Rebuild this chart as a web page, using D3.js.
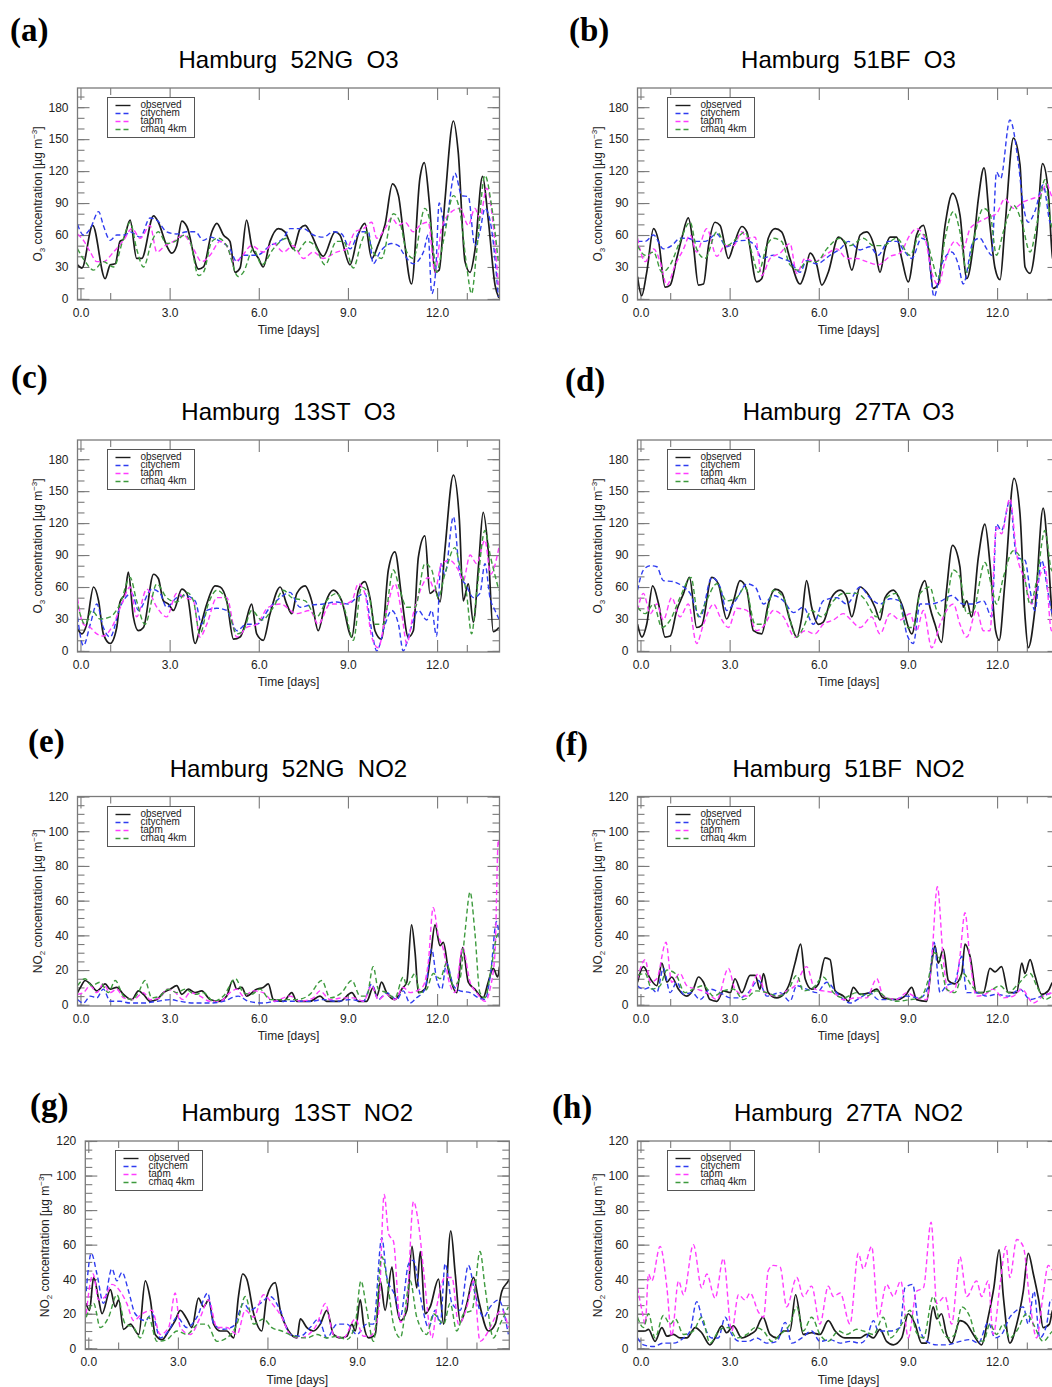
<!DOCTYPE html>
<html>
<head>
<meta charset="utf-8">
<script src="https://cdn.jsdelivr.net/npm/d3@7"></script>
<style>
  body { margin: 0; background: #fff; }
  svg { display: block; }
  text { font-family: "Liberation Sans", Arial, Helvetica, sans-serif; }
</style>
</head>
<body>
<svg id="fig" width="1052" height="1387"></svg>
<script>
// ---------------------------------------------------------------
// Hourly-smoothed time series, [day, concentration in µg m-3]
// ---------------------------------------------------------------

// 52NG O3
const obs52NG_O3 = [[-0.1,32],[0.05,29],[0.41,69],[0.83,19],[1.0,32],[1.17,33],[1.33,54],[1.45,56],[1.67,74],[1.89,38],[2.06,38],[2.46,78],[2.62,72],[2.9,50],[3.07,43],[3.24,50],[3.41,73],[3.58,68],[3.97,28],[4.14,30],[4.42,63],[4.59,71],[4.81,60],[5.03,54],[5.2,25],[5.37,29],[5.59,74],[5.76,50],[5.99,38],[6.15,30],[6.38,54],[6.66,66],[6.88,63],[7.16,47],[7.39,66],[7.56,69],[7.72,63],[8.17,40],[8.57,63],[8.73,60],[9.07,32],[9.35,61],[9.57,71],[9.8,38],[10.02,51],[10.25,70],[10.5,108],[10.7,97],[10.86,63],[11.14,14],[11.42,113],[11.57,128],[11.74,90],[11.93,25],[12.07,27],[12.26,91],[12.55,167],[12.71,138],[12.94,35],[13.11,25],[13.27,45],[13.53,115],[13.72,75],[13.95,13],[14.08,1]];
const city52NG_O3 = [[-0.1,70],[0.1,60],[0.33,66],[0.61,82],[0.77,69],[1.0,55],[1.22,60],[1.5,60],[1.67,63],[2.01,58],[2.34,76],[2.57,74],[2.9,63],[3.24,61],[3.58,63],[3.86,63],[4.14,55],[4.36,58],[4.7,54],[5.03,47],[5.26,35],[5.48,41],[5.93,41],[6.38,50],[6.83,57],[7.05,66],[7.5,66],[7.84,60],[8.17,58],[8.51,63],[8.79,61],[9.07,47],[9.41,63],[9.69,63],[9.85,33],[10.08,44],[10.47,52],[10.7,50],[10.86,43],[11.2,33],[11.54,44],[11.7,60],[11.82,5],[11.95,25],[12.07,90],[12.26,69],[12.6,118],[12.83,97],[13.05,96],[13.27,50],[13.44,63],[13.61,85],[13.83,66],[14.06,2]];
const tapm52NG_O3 = [[-0.1,61],[0.1,55],[0.33,44],[0.55,35],[0.77,35],[1.11,44],[1.45,55],[1.73,66],[2.01,57],[2.34,69],[2.57,44],[2.85,50],[3.13,54],[3.46,60],[3.8,47],[4.08,35],[4.36,41],[4.7,54],[4.92,50],[5.15,35],[5.37,38],[5.76,50],[6.15,44],[6.49,52],[6.83,44],[7.16,50],[7.5,38],[7.84,44],[8.17,38],[8.62,44],[8.96,47],[9.24,63],[9.52,66],[9.8,72],[9.97,57],[10.25,66],[10.47,76],[10.7,69],[10.92,72],[11.2,63],[11.42,69],[11.7,72],[11.93,25],[12.15,66],[12.49,82],[12.77,85],[13.05,69],[13.27,85],[13.44,76],[13.67,104],[13.89,69],[14.06,13]];
const cmaq52NG_O3 = [[-0.1,47],[0.16,35],[0.44,27],[0.77,35],[1.11,30],[1.45,57],[1.67,72],[1.89,47],[2.12,30],[2.4,54],[2.62,63],[2.9,52],[3.18,54],[3.52,60],[3.69,54],[3.97,22],[4.14,25],[4.42,54],[4.64,57],[4.92,50],[5.31,21],[5.48,25],[5.82,47],[6.1,32],[6.49,47],[6.94,57],[7.28,44],[7.61,54],[7.89,50],[8.23,32],[8.62,54],[8.85,54],[9.18,29],[9.46,54],[9.63,63],[9.85,44],[10.13,38],[10.53,80],[10.75,72],[10.98,44],[11.2,38],[11.59,85],[11.82,63],[11.98,25],[12.21,54],[12.55,97],[12.77,82],[12.99,32],[13.16,5],[13.33,44],[13.61,116],[13.83,88],[14.06,35]];

// 51BF O3
const obs51BF_O3 = [[-0.1,21],[0.04,3],[0.21,25],[0.44,66],[0.61,54],[0.83,11],[1.0,13],[1.22,38],[1.39,57],[1.61,76],[1.78,50],[1.95,13],[2.12,14],[2.29,50],[2.51,72],[2.68,69],[2.96,38],[3.13,50],[3.41,68],[3.58,63],[3.91,16],[4.08,19],[4.3,57],[4.53,66],[4.75,63],[5.03,38],[5.37,14],[5.54,25],[5.71,43],[5.93,32],[6.1,13],[6.32,25],[6.66,58],[6.88,52],[7.11,27],[7.39,60],[7.61,63],[7.89,47],[8.06,25],[8.23,47],[8.4,58],[8.62,58],[8.79,38],[9.01,16],[9.29,60],[9.52,69],[9.69,47],[9.85,10],[10.02,14],[10.25,69],[10.5,99],[10.75,79],[10.98,19],[11.2,50],[11.37,94],[11.56,123],[11.76,69],[11.93,29],[12.1,18],[12.26,66],[12.55,151],[12.77,126],[12.94,30],[13.11,24],[13.33,60],[13.53,127],[13.72,101],[13.87,38],[14.1,25]];
const city51BF_O3 = [[-0.1,54],[0.16,54],[0.44,60],[0.77,47],[1.05,50],[1.33,57],[1.61,57],[1.89,54],[2.17,54],[2.57,61],[2.9,49],[3.24,54],[3.52,55],[3.86,50],[4.08,38],[4.47,41],[4.75,38],[5.03,35],[5.37,25],[5.59,36],[5.93,33],[6.38,41],[6.72,47],[7.0,54],[7.39,46],[7.72,49],[8.0,41],[8.34,54],[8.62,54],[8.9,44],[9.13,38],[9.46,57],[9.63,54],[9.88,2],[10.13,32],[10.47,44],[10.7,32],[10.86,14],[11.2,54],[11.42,57],[11.65,47],[11.82,41],[11.98,119],[12.12,113],[12.43,168],[12.71,129],[12.88,88],[13.05,72],[13.27,82],[13.55,107],[13.78,72],[14.1,60]];
const tapm51BF_O3 = [[-0.1,57],[0.16,35],[0.44,47],[0.66,35],[0.89,13],[1.17,32],[1.45,47],[1.67,60],[1.89,44],[2.23,66],[2.57,40],[2.85,50],[3.13,50],[3.41,63],[3.58,57],[3.86,58],[4.08,22],[4.36,38],[4.7,43],[5.03,52],[5.26,24],[5.54,38],[5.87,35],[6.21,41],[6.6,47],[6.94,38],[7.28,38],[7.61,35],[8.0,32],[8.4,40],[8.73,43],[9.07,60],[9.29,66],[9.57,57],[9.8,25],[10.02,13],[10.25,35],[10.58,54],[10.86,47],[11.09,66],[11.37,72],[11.65,76],[11.98,80],[12.26,94],[12.55,85],[12.88,91],[13.16,94],[13.44,97],[13.67,108],[13.83,97],[14.1,90]];
const cmaq51BF_O3 = [[-0.1,50],[0.16,41],[0.44,44],[0.72,25],[1.0,32],[1.33,54],[1.67,72],[1.89,47],[2.17,38],[2.57,63],[2.9,50],[3.24,57],[3.52,63],[3.74,44],[3.97,25],[4.25,50],[4.47,57],[4.75,54],[5.03,32],[5.31,27],[5.59,35],[5.93,35],[6.27,47],[6.72,57],[7.05,50],[7.5,57],[7.84,50],[8.17,50],[8.62,57],[9.07,41],[9.41,61],[9.57,60],[9.8,38],[10.02,19],[10.25,57],[10.53,82],[10.75,63],[10.98,25],[11.2,54],[11.54,85],[11.76,80],[11.98,41],[12.21,63],[12.55,88],[12.83,72],[13.11,44],[13.33,69],[13.61,112],[13.83,69],[14.1,60]];

// 13ST O3
const obs13ST_O3 = [[-0.1,21],[0.05,16],[0.21,25],[0.44,60],[0.61,47],[0.77,16],[1.0,7],[1.22,22],[1.33,46],[1.5,54],[1.61,74],[1.78,32],[1.95,19],[2.12,22],[2.46,72],[2.62,68],[2.79,47],[2.96,44],[3.13,38],[3.41,58],[3.58,54],[3.86,7],[4.02,21],[4.25,44],[4.53,61],[4.7,60],[4.92,47],[5.15,11],[5.37,13],[5.54,25],[5.76,44],[5.93,16],[6.15,10],[6.38,35],[6.72,60],[6.94,44],[7.11,35],[7.28,54],[7.56,61],[7.78,47],[8.0,19],[8.23,44],[8.51,57],[8.79,47],[9.13,13],[9.35,57],[9.57,65],[9.74,50],[9.91,19],[10.13,11],[10.36,76],[10.58,93],[10.81,50],[11.03,13],[11.2,19],[11.37,88],[11.59,108],[11.76,54],[11.93,57],[12.1,46],[12.26,94],[12.55,165],[12.75,123],[12.88,47],[13.05,63],[13.22,27],[13.4,82],[13.55,130],[13.72,94],[13.89,18],[14.08,22]];
const city13ST_O3 = [[-0.1,32],[0.1,5],[0.33,25],[0.55,44],[0.77,22],[1.0,13],[1.33,41],[1.73,54],[1.95,38],[2.4,58],[2.68,54],[2.9,41],[3.24,50],[3.52,52],[3.86,47],[4.08,25],[4.25,38],[4.59,40],[4.92,38],[5.26,19],[5.59,25],[5.93,25],[6.38,41],[6.72,50],[7.05,55],[7.39,41],[7.72,43],[8.17,44],[8.62,46],[9.01,44],[9.29,50],[9.57,54],[9.8,19],[9.97,0],[10.25,25],[10.47,38],[10.7,25],[10.86,0],[11.09,19],[11.37,38],[11.65,29],[11.82,38],[11.98,14],[12.13,82],[12.26,72],[12.55,126],[12.77,72],[12.99,61],[13.22,50],[13.44,54],[13.61,82],[13.78,50],[13.95,38],[14.08,30]];
const tapm13ST_O3 = [[-0.1,49],[0.1,25],[0.33,22],[0.55,16],[0.77,14],[1.05,22],[1.39,44],[1.67,60],[1.89,32],[2.23,58],[2.57,41],[2.9,32],[3.24,54],[3.52,50],[3.8,47],[4.02,13],[4.25,25],[4.59,50],[4.92,50],[5.26,13],[5.59,22],[5.93,25],[6.32,41],[6.72,44],[7.28,35],[7.72,38],[8.0,25],[8.4,44],[8.85,44],[9.13,47],[9.35,63],[9.57,54],[9.8,13],[10.02,3],[10.3,38],[10.58,63],[10.81,35],[10.98,7],[11.2,35],[11.48,60],[11.7,69],[11.93,57],[12.15,82],[12.43,85],[12.71,76],[12.88,66],[13.11,90],[13.33,82],[13.61,104],[13.8,72],[14.08,97]];
const cmaq13ST_O3 = [[-0.1,44],[0.16,25],[0.38,38],[0.66,30],[1.0,32],[1.33,44],[1.67,69],[1.89,47],[2.17,25],[2.57,63],[2.9,50],[3.24,46],[3.58,55],[3.8,47],[4.02,16],[4.3,44],[4.59,57],[4.87,50],[5.26,16],[5.48,19],[5.76,38],[6.1,29],[6.49,41],[6.83,57],[7.11,50],[7.56,47],[7.95,32],[8.28,47],[8.62,54],[8.9,38],[9.18,10],[9.46,60],[9.69,54],[9.91,25],[10.19,25],[10.53,76],[10.75,57],[10.98,41],[11.26,41],[11.59,82],[11.82,76],[12.04,50],[12.26,72],[12.6,97],[12.77,79],[12.99,54],[13.16,16],[13.33,54],[13.61,113],[13.8,88],[14.08,57]];

// 27TA O3
const obs27TA_O3 = [[-0.1,25],[0.05,13],[0.21,25],[0.41,61],[0.61,44],[0.83,13],[1.0,14],[1.22,38],[1.45,54],[1.65,69],[1.89,22],[2.06,24],[2.4,69],[2.62,63],[2.9,30],[3.13,47],[3.35,66],[3.58,57],[3.8,19],[4.08,16],[4.3,44],[4.53,58],[4.75,55],[5.03,29],[5.26,13],[5.43,32],[5.59,66],[5.76,41],[5.99,25],[6.15,27],[6.43,50],[6.72,57],[6.94,50],[7.11,32],[7.39,60],[7.61,55],[7.89,41],[8.06,29],[8.23,50],[8.51,57],[8.79,44],[9.13,16],[9.41,57],[9.57,66],[9.74,41],[9.91,25],[10.13,8],[10.3,57],[10.5,99],[10.75,79],[10.86,41],[10.98,47],[11.14,32],[11.37,88],[11.59,119],[11.76,82],[11.95,19],[12.07,10],[12.26,63],[12.57,162],[12.77,129],[12.94,32],[13.05,3],[13.27,38],[13.55,134],[13.72,88],[13.87,32],[14.1,20]];
const city27TA_O3 = [[-0.1,57],[0.1,76],[0.33,80],[0.55,79],[0.77,66],[1.11,65],[1.45,60],[1.67,54],[2.01,32],[2.4,69],[2.68,60],[2.9,38],[3.24,49],[3.58,63],[3.86,60],[4.14,44],[4.47,52],[4.81,47],[5.15,36],[5.48,41],[5.82,25],[6.15,47],[6.6,50],[6.94,44],[7.39,60],[7.72,50],[8.06,44],[8.4,49],[8.73,47],[8.96,16],[9.18,7],[9.41,44],[9.74,44],[10.13,47],[10.47,52],[10.86,44],[11.2,44],[11.54,47],[11.82,32],[11.98,119],[12.15,113],[12.43,141],[12.66,88],[12.94,85],[13.11,57],[13.27,38],[13.5,85],[13.72,54],[13.87,35],[14.1,45]];
const tapm27TA_O3 = [[-0.1,38],[0.1,54],[0.33,35],[0.55,44],[0.77,29],[1.05,50],[1.33,32],[1.61,44],[1.89,7],[2.12,25],[2.46,44],[2.68,32],[2.96,22],[3.24,40],[3.58,38],[3.91,19],[4.19,25],[4.47,38],[4.81,32],[5.2,13],[5.54,19],[5.87,16],[6.15,25],[6.49,29],[6.83,35],[7.05,30],[7.39,22],[7.78,32],[8.06,16],[8.4,35],[8.73,29],[9.07,35],[9.29,19],[9.52,38],[9.8,3],[10.08,25],[10.53,44],[10.75,25],[10.98,13],[11.31,38],[11.54,19],[11.76,19],[11.98,116],[12.15,110],[12.43,143],[12.66,91],[12.94,66],[13.16,44],[13.38,66],[13.61,79],[13.83,19],[14.1,35]];
const cmaq27TA_O3 = [[-0.1,41],[0.16,35],[0.44,44],[0.72,22],[1.0,29],[1.33,50],[1.7,69],[1.95,32],[2.17,44],[2.57,63],[2.9,47],[3.24,50],[3.52,60],[3.86,25],[4.14,25],[4.47,57],[4.81,50],[5.26,13],[5.48,22],[5.76,38],[6.1,32],[6.49,47],[6.83,54],[7.28,54],[7.5,50],[7.95,32],[8.28,50],[8.62,54],[8.96,22],[9.18,22],[9.41,54],[9.74,60],[9.97,38],[10.19,32],[10.53,76],[10.75,69],[10.98,35],[11.2,38],[11.59,83],[11.82,60],[11.98,44],[12.21,69],[12.55,94],[12.83,85],[13.11,44],[13.33,66],[13.61,113],[13.83,76],[14.1,70]];

// 52NG NO2
const obs52NG_NO2 = [[-0.1,7],[0.0,10],[0.16,14],[0.33,12],[0.55,8],[0.83,12],[1.0,9],[1.22,10],[1.45,6],[1.73,3],[1.95,8],[2.12,6],[2.34,2],[2.57,3],[2.79,7],[3.02,9],[3.24,11],[3.41,6],[3.63,9],[3.86,7],[4.08,8],[4.36,3],[4.64,2],[4.92,5],[5.12,14],[5.26,9],[5.43,10],[5.59,5],[5.93,9],[6.15,10],[6.32,12],[6.49,3],[6.83,2],[7.11,7],[7.28,2],[7.72,2],[8.06,5],[8.28,2],[8.73,2],[9.13,7],[9.35,2],[9.63,2],[9.85,10],[9.97,5],[10.13,13],[10.3,7],[10.58,3],[10.81,9],[10.98,13],[11.14,46],[11.26,30],[11.37,7],[11.59,9],[11.78,28],[11.93,46],[12.1,34],[12.21,36],[12.38,20],[12.66,7],[12.86,33],[13.05,13],[13.27,9],[13.55,4],[13.72,13],[13.89,21],[14.04,16],[14.1,22]];
const city52NG_NO2 = [[-0.1,3],[0.1,1],[0.33,5],[0.55,4],[0.77,9],[1.0,2],[1.33,2],[1.67,1],[2.12,1],[2.57,2],[3.02,3],[3.35,2],[3.8,1],[4.36,1],[4.81,2],[5.31,5],[5.65,2],[6.15,1],[6.6,2],[7.11,2],[7.72,2],[8.17,3],[8.62,2],[9.07,3],[9.52,2],[9.8,12],[10.02,3],[10.3,7],[10.64,3],[10.86,8],[11.09,1],[11.31,4],[11.59,9],[11.82,32],[11.98,15],[12.15,9],[12.32,24],[12.55,11],[12.77,8],[13.11,7],[13.4,4],[13.61,3],[13.8,18],[14.0,48],[14.1,38]];
const tapm52NG_NO2 = [[-0.1,6],[0.1,7],[0.33,11],[0.55,7],[0.77,12],[1.0,7],[1.22,9],[1.45,4],[1.78,3],[2.12,7],[2.34,3],[2.68,4],[2.9,9],[3.13,8],[3.46,3],[3.69,7],[4.02,5],[4.36,2],[4.7,2],[5.03,7],[5.26,9],[5.48,5],[5.82,8],[6.15,7],[6.49,2],[7.05,5],[7.39,2],[7.84,4],[8.06,8],[8.4,3],[8.85,4],[9.18,4],[9.52,2],[9.8,11],[10.02,3],[10.3,6],[10.58,3],[10.86,10],[11.09,7],[11.31,8],[11.54,11],[11.7,24],[11.87,56],[12.04,40],[12.21,32],[12.38,15],[12.6,7],[12.86,33],[13.11,13],[13.33,7],[13.61,2],[13.78,9],[13.95,30],[14.06,95],[14.1,92]];
const cmaq52NG_NO2 = [[-0.1,11],[0.16,15],[0.38,11],[0.66,13],[0.94,7],[1.17,14],[1.45,5],[1.73,3],[1.95,7],[2.17,14],[2.4,4],[2.68,5],[2.96,9],[3.24,7],[3.52,9],[3.86,6],[4.14,7],[4.47,2],[4.81,5],[5.22,15],[5.48,7],[5.76,6],[6.04,9],[6.38,3],[6.83,3],[7.28,3],[7.72,6],[8.12,14],[8.4,4],[8.79,7],[9.13,14],[9.41,5],[9.63,5],[9.85,22],[10.02,9],[10.3,7],[10.58,4],[10.86,16],[10.98,11],[11.26,18],[11.42,7],[11.65,9],[11.87,18],[12.1,15],[12.32,24],[12.55,11],[12.77,15],[12.94,42],[13.11,65],[13.27,42],[13.44,7],[13.61,4],[13.83,22],[14.0,39],[14.1,42]];

// 51BF NO2
const obs51BF_NO2 = [[-0.1,13],[0.1,22],[0.33,15],[0.55,11],[0.72,24],[0.89,13],[1.05,16],[1.28,9],[1.56,5],[1.78,9],[1.95,16],[2.12,13],[2.34,3],[2.57,2],[2.79,8],[3.02,7],[3.18,15],[3.41,7],[3.69,17],[3.86,17],[4.02,9],[4.14,18],[4.3,7],[4.59,4],[4.81,6],[5.03,13],[5.2,24],[5.39,35],[5.54,15],[5.76,9],[5.99,12],[6.21,27],[6.38,26],[6.55,8],[6.83,5],[7.0,2],[7.16,10],[7.39,6],[7.72,7],[7.95,9],[8.17,4],[8.62,3],[8.9,5],[9.13,10],[9.29,3],[9.63,2],[9.8,24],[9.91,34],[10.02,24],[10.19,32],[10.36,14],[10.58,12],[10.81,18],[10.92,35],[11.09,28],[11.31,7],[11.54,7],[11.76,21],[11.93,19],[12.15,22],[12.38,7],[12.66,7],[12.83,24],[12.94,18],[13.11,26],[13.27,17],[13.5,6],[13.72,8],[13.87,13],[14.1,15]];
const city51BF_NO2 = [[-0.1,11],[0.1,9],[0.33,10],[0.55,7],[0.77,21],[1.0,7],[1.22,13],[1.45,6],[1.73,7],[2.01,3],[2.34,9],[2.68,7],[3.02,4],[3.35,4],[3.63,7],[3.97,14],[4.25,5],[4.7,7],[5.03,2],[5.26,11],[5.59,9],[5.93,7],[6.27,13],[6.6,7],[7.05,1],[7.39,4],[7.72,7],[8.0,3],[8.51,3],[8.96,5],[9.41,4],[9.69,11],[9.88,36],[10.08,7],[10.3,11],[10.58,13],[10.81,28],[10.98,7],[11.31,7],[11.65,5],[11.98,6],[12.38,5],[12.77,9],[13.11,3],[13.5,5],[13.87,7],[14.1,8]];
const tapm51BF_NO2 = [[-0.1,15],[0.16,26],[0.33,13],[0.55,15],[0.86,36],[1.05,13],[1.33,18],[1.56,11],[1.89,9],[2.23,7],[2.57,3],[2.96,21],[3.18,9],[3.58,5],[3.97,18],[4.19,7],[4.59,5],[4.92,8],[5.2,11],[5.59,22],[5.87,9],[6.15,8],[6.49,7],[6.83,3],[7.28,4],[7.61,4],[7.95,15],[8.17,5],[8.62,3],[8.96,7],[9.29,4],[9.63,3],[9.8,26],[9.99,68],[10.19,26],[10.36,7],[10.58,9],[10.75,28],[10.92,53],[11.09,26],[11.31,5],[11.59,6],[11.87,9],[12.21,4],[12.55,5],[12.83,9],[13.22,1],[13.55,5],[13.87,7],[14.1,8]];
const cmaq51BF_NO2 = [[-0.1,17],[0.16,18],[0.38,9],[0.66,11],[0.89,20],[1.17,18],[1.5,7],[1.78,9],[2.12,11],[2.46,5],[2.79,8],[3.13,9],[3.46,3],[3.91,8],[4.25,7],[4.59,5],[4.92,7],[5.26,17],[5.48,8],[5.82,10],[6.15,16],[6.49,7],[6.83,4],[7.28,7],[7.61,5],[7.95,8],[8.28,4],[8.62,2],[9.07,3],[9.41,4],[9.69,15],[9.88,30],[10.08,26],[10.3,9],[10.58,7],[10.86,18],[11.14,11],[11.42,7],[11.76,8],[12.1,11],[12.38,7],[12.66,11],[13.11,18],[13.33,11],[13.61,3],[13.87,5],[14.1,6]];

// 13ST NO2
const obs13ST_NO2 = [[-0.07,26],[0.04,22],[0.18,41],[0.35,28],[0.46,20],[0.74,34],[0.9,24],[1.02,28],[1.18,11],[1.41,14],[1.69,8],[1.91,39],[2.08,28],[2.24,8],[2.47,5],[2.69,10],[2.91,16],[3.08,22],[3.3,17],[3.47,12],[3.69,29],[3.86,24],[4.03,28],[4.2,14],[4.42,10],[4.64,10],[4.87,6],[5.03,30],[5.17,43],[5.31,40],[5.54,20],[5.81,10],[5.98,30],[6.26,38],[6.43,22],[6.71,10],[6.99,6],[7.1,17],[7.32,12],[7.54,10],[7.77,14],[7.99,22],[8.21,8],[8.44,6],[8.66,7],[8.83,14],[8.94,10],[9.11,28],[9.22,14],[9.39,6],[9.61,8],[9.78,39],[9.94,22],[10.17,47],[10.28,30],[10.45,16],[10.67,22],[10.84,59],[11.0,35],[11.12,56],[11.28,20],[11.45,24],[11.73,40],[11.9,14],[12.14,68],[12.29,43],[12.46,15],[12.68,26],[12.9,41],[13.07,28],[13.4,10],[13.63,14],[13.85,33],[14.07,39],[14.1,40]];
const city13ST_NO2 = [[-0.07,33],[0.1,55],[0.29,43],[0.51,26],[0.79,46],[0.96,39],[1.13,44],[1.35,33],[1.57,20],[1.91,16],[2.13,20],[2.41,6],[2.69,10],[2.97,18],[3.3,12],[3.64,18],[4.0,32],[4.2,14],[4.53,11],[4.87,13],[5.2,26],[5.42,22],[5.76,26],[6.09,30],[6.43,22],[6.76,8],[7.1,7],[7.43,12],[7.71,17],[7.99,6],[8.33,14],[8.66,14],[8.99,8],[9.33,14],[9.55,14],[9.83,64],[10.0,41],[10.28,30],[10.45,18],[10.73,49],[10.89,51],[11.12,30],[11.4,12],[11.62,22],[11.79,14],[11.95,49],[12.18,26],[12.46,22],[12.73,48],[12.96,31],[13.24,18],[13.46,24],[13.74,28],[14.07,8]];
const tapm13ST_NO2 = [[-0.07,20],[0.16,43],[0.35,28],[0.57,30],[0.79,37],[1.07,33],[1.29,26],[1.52,16],[1.8,20],[2.13,22],[2.41,8],[2.69,12],[2.91,32],[3.08,12],[3.42,8],[3.75,18],[4.03,28],[4.31,12],[4.64,12],[4.98,8],[5.26,22],[5.54,18],[5.87,31],[6.15,26],[6.48,18],[6.76,8],[7.1,6],[7.38,8],[7.66,14],[7.94,26],[8.21,8],[8.55,6],[8.94,17],[9.22,7],[9.44,7],[9.72,20],[9.91,89],[10.06,66],[10.22,62],[10.45,15],[10.67,26],[10.89,85],[11.06,72],[11.23,45],[11.51,6],[11.67,24],[11.95,41],[12.18,41],[12.4,14],[12.68,24],[12.9,39],[13.12,4],[13.4,10],[13.63,18],[13.85,22],[14.07,12]];
const cmaq13ST_NO2 = [[-0.07,18],[0.18,26],[0.4,12],[0.68,18],[0.96,31],[1.24,14],[1.52,12],[1.74,6],[2.02,18],[2.3,4],[2.63,5],[2.97,10],[3.3,8],[3.69,14],[3.97,14],[4.31,4],[4.64,6],[4.98,14],[5.26,30],[5.54,14],[5.87,17],[6.15,12],[6.48,10],[6.88,7],[7.32,6],[7.66,8],[7.99,6],[8.33,7],[8.66,5],[8.94,14],[9.13,39],[9.33,22],[9.55,4],[9.83,53],[10.06,33],[10.22,14],[10.45,6],[10.78,39],[11.0,18],[11.34,8],[11.56,20],[11.9,14],[12.12,26],[12.34,10],[12.57,20],[12.85,22],[13.12,56],[13.29,35],[13.57,6],[13.79,14],[14.07,24]];

// 27TA NO2
const obs27TA_NO2 = [[-0.1,10],[0.16,10],[0.27,11],[0.49,4],[0.72,12],[0.89,7],[1.11,8],[1.33,6],[1.56,6],[1.84,12],[2.06,9],[2.34,2],[2.51,6],[2.74,13],[2.9,9],[3.13,13],[3.41,6],[3.69,8],[3.86,10],[4.12,18],[4.36,8],[4.59,6],[4.81,10],[5.03,10],[5.22,31],[5.48,8],[5.76,9],[6.04,8],[6.32,16],[6.55,10],[6.88,6],[7.11,6],[7.39,6],[7.61,8],[7.84,6],[8.06,11],[8.28,4],[8.51,2],[8.79,6],[9.01,20],[9.24,14],[9.46,3],[9.63,3],[9.85,24],[9.97,17],[10.13,20],[10.3,8],[10.47,3],[10.75,16],[10.98,14],[11.2,8],[11.48,2],[11.7,18],[11.89,35],[12.07,57],[12.21,30],[12.43,3],[12.66,14],[12.88,33],[13.05,55],[13.22,43],[13.4,28],[13.55,12],[13.76,14],[13.87,22],[14.1,25]];
const city27TA_NO2 = [[-0.1,6],[0.1,2],[0.44,1],[0.77,3],[1.11,3],[1.45,6],[1.67,10],[1.89,27],[2.12,14],[2.4,6],[2.62,6],[2.85,18],[3.07,8],[3.35,4],[3.63,4],[3.91,6],[4.25,3],[4.59,4],[4.87,15],[5.09,3],[5.43,6],[5.76,10],[6.04,4],[6.38,5],[6.72,3],[7.05,4],[7.39,3],[7.61,6],[7.84,16],[8.0,10],[8.4,10],[8.73,12],[8.9,35],[9.16,37],[9.35,14],[9.63,4],[9.97,2],[10.3,2],[10.75,4],[11.09,5],[11.37,3],[11.7,15],[11.93,6],[12.15,8],[12.43,18],[12.66,22],[12.88,24],[13.05,14],[13.24,33],[13.44,6],[13.67,14],[13.8,28],[14.1,28]];
const tapm27TA_NO2 = [[-0.1,35],[0.05,22],[0.16,14],[0.27,43],[0.38,39],[0.66,59],[0.89,35],[1.05,7],[1.28,39],[1.45,31],[1.78,60],[2.06,35],[2.23,43],[2.51,29],[2.79,52],[3.07,10],[3.3,31],[3.52,28],[3.69,32],[3.97,21],[4.14,18],[4.3,45],[4.47,48],[4.7,47],[4.92,24],[5.26,41],[5.48,30],[5.76,36],[6.04,14],[6.32,36],[6.49,30],[6.72,32],[7.05,14],[7.33,55],[7.5,46],[7.78,59],[8.0,18],[8.28,37],[8.51,30],[8.76,39],[9.01,6],[9.29,33],[9.52,35],[9.78,73],[9.97,26],[10.25,30],[10.47,14],[10.75,53],[10.98,30],[11.31,39],[11.48,30],[11.7,39],[11.87,8],[12.1,37],[12.3,59],[12.43,41],[12.66,63],[12.88,59],[13.11,26],[13.33,6],[13.55,31],[13.72,48],[13.87,45],[14.1,40]];
const cmaq27TA_NO2 = [[-0.1,18],[0.1,12],[0.27,20],[0.49,6],[0.77,19],[1.0,14],[1.17,17],[1.45,8],[1.78,10],[2.06,18],[2.34,3],[2.68,11],[2.96,12],[3.24,6],[3.58,8],[3.86,12],[4.14,10],[4.42,4],[4.7,8],[5.03,14],[5.26,24],[5.48,10],[5.76,18],[6.04,8],[6.32,4],[6.66,10],[6.94,8],[7.28,11],[7.5,10],[7.84,8],[8.17,18],[8.4,6],[8.79,14],[9.07,22],[9.29,9],[9.52,6],[9.85,30],[10.08,14],[10.36,6],[10.58,8],[10.81,24],[11.09,18],[11.31,6],[11.54,4],[11.76,14],[11.98,8],[12.21,14],[12.43,6],[12.66,10],[12.99,20],[13.22,14],[13.55,4],[13.87,10],[14.1,12]];

// Series, axis ticks and panel contents
const seriesNames = ["observed", "citychem", "tapm", "cmaq 4km"];
const seriesColors = ["#1c1c1c", "#2f3cf0", "#ff3cff", "#3d9a3d"];
const dayTicks = [0, 3, 6, 9, 12];
const dayMinorTicks = [1, 13];
const o3Ticks = [0, 30, 60, 90, 120, 150, 180];
const no2Ticks = [0, 20, 40, 60, 80, 100, 120];

const panels = [
  { tag: "(a)", station: "52NG", species: "O3",  series: [obs52NG_O3, city52NG_O3, tapm52NG_O3, cmaq52NG_O3] },
  { tag: "(b)", station: "51BF", species: "O3",  series: [obs51BF_O3, city51BF_O3, tapm51BF_O3, cmaq51BF_O3] },
  { tag: "(c)", station: "13ST", species: "O3",  series: [obs13ST_O3, city13ST_O3, tapm13ST_O3, cmaq13ST_O3] },
  { tag: "(d)", station: "27TA", species: "O3",  series: [obs27TA_O3, city27TA_O3, tapm27TA_O3, cmaq27TA_O3] },
  { tag: "(e)", station: "52NG", species: "NO2", series: [obs52NG_NO2, city52NG_NO2, tapm52NG_NO2, cmaq52NG_NO2] },
  { tag: "(f)", station: "51BF", species: "NO2", series: [obs51BF_NO2, city51BF_NO2, tapm51BF_NO2, cmaq51BF_NO2] },
  { tag: "(g)", station: "13ST", species: "NO2", series: [obs13ST_NO2, city13ST_NO2, tapm13ST_NO2, cmaq13ST_NO2] },
  { tag: "(h)", station: "27TA", species: "NO2", series: [obs27TA_NO2, city27TA_NO2, tapm27TA_NO2, cmaq27TA_NO2] }
];

// Page layout of the eight plot frames
const frames = [
  { x: 77.5,  y: 88,    w: 422, h: 212,   tagX: 10,  tagY: 41 },
  { x: 637.5, y: 88,    w: 422, h: 212,   tagX: 569, tagY: 41 },
  { x: 77.5,  y: 440,   w: 422, h: 212,   tagX: 11,  tagY: 388 },
  { x: 637.5, y: 440,   w: 422, h: 212,   tagX: 565, tagY: 391 },
  { x: 77.5,  y: 796.5, w: 422, h: 209.5, tagX: 28,  tagY: 752 },
  { x: 637.5, y: 796.5, w: 422, h: 209.5, tagX: 555, tagY: 755 },
  { x: 85.3,  y: 1141,  w: 424, h: 208.5, tagX: 30,  tagY: 1116 },
  { x: 637.5, y: 1141,  w: 422, h: 208.5, tagX: 552, tagY: 1118 }
];

const svg = d3.select("#fig");
const frameColor = "#7a7a7a";

panels.forEach((p, i) => {
  const f = frames[i];
  const isO3 = p.species === "O3";

  const x = d3.scaleLinear().domain([-0.1, 14.1]).range([f.x, f.x + f.w]);
  const y = isO3
    ? d3.scaleLinear().domain([-1, 198]).range([f.y + f.h, f.y])
    : d3.scaleLinear().domain([-0.7, 120]).range([f.y + f.h, f.y]);
  const yMajor = isO3 ? o3Ticks : no2Ticks;
  const yMinor = isO3 ? d3.range(0, 191, 10) : d3.range(0, 121, 5);

  const g = svg.append("g");

  // panel tag
  g.append("text")
    .attr("x", f.tagX).attr("y", f.tagY)
    .style("font-family", "'Liberation Serif', 'Times New Roman', serif")
    .style("font-weight", "bold").style("font-size", "33px")
    .text(p.tag);

  // title
  g.append("text")
    .attr("x", f.x + f.w / 2).attr("y", f.y - 20)
    .attr("text-anchor", "middle")
    .style("font-size", "24px").style("white-space", "pre")
    .attr("xml:space", "preserve")
    .text("Hamburg  " + p.station + "  " + p.species);

  // clip for the series
  const clipId = "clip" + i;
  svg.append("clipPath").attr("id", clipId)
    .append("rect").attr("x", f.x).attr("y", f.y).attr("width", f.w).attr("height", f.h);

  // axes with inward ticks on all four sides
  const axisStyle = sel => {
    sel.select(".domain").remove();
    sel.selectAll("line").attr("stroke", frameColor).attr("stroke-width", 1.1);
    sel.selectAll("text").style("font-size", "12px").attr("fill", "#222")
      .style("font-family", "'Liberation Sans', Arial, sans-serif");
  };

  g.append("g").attr("transform", `translate(${f.x},0)`)
    .call(d3.axisLeft(y).tickValues(yMinor).tickSize(-7).tickFormat(""))
    .call(axisStyle);
  g.append("g").attr("transform", `translate(${f.x},0)`)
    .call(d3.axisLeft(y).tickValues(yMajor).tickSize(-12).tickPadding(9).tickFormat(d3.format("d")))
    .call(axisStyle);
  g.append("g").attr("transform", `translate(${f.x + f.w},0)`)
    .call(d3.axisRight(y).tickValues(yMinor).tickSize(-7).tickFormat(""))
    .call(axisStyle);
  g.append("g").attr("transform", `translate(${f.x + f.w},0)`)
    .call(d3.axisRight(y).tickValues(yMajor).tickSize(-12).tickFormat(""))
    .call(axisStyle);

  g.append("g").attr("transform", `translate(0,${f.y + f.h})`)
    .call(d3.axisBottom(x).tickValues(dayMinorTicks).tickSize(-7).tickFormat(""))
    .call(axisStyle);
  g.append("g").attr("transform", `translate(0,${f.y + f.h})`)
    .call(d3.axisBottom(x).tickValues(dayTicks).tickSize(-12).tickPadding(8).tickFormat(d3.format(".1f")))
    .call(axisStyle);
  g.append("g").attr("transform", `translate(0,${f.y})`)
    .call(d3.axisTop(x).tickValues(dayMinorTicks).tickSize(-7).tickFormat(""))
    .call(axisStyle);
  g.append("g").attr("transform", `translate(0,${f.y})`)
    .call(d3.axisTop(x).tickValues(dayTicks).tickSize(-12).tickFormat(""))
    .call(axisStyle);

  // x axis title, centred on the frame
  g.append("text")
    .attr("x", f.x + f.w / 2).attr("y", f.y + f.h + 34)
    .attr("text-anchor", "middle").style("font-size", "12px").attr("fill", "#222")
    .text("Time [days]");

  // y axis title with sub/superscripts
  const yt = g.append("text")
    .attr("transform", `translate(${f.x - 36},${f.y + f.h / 2}) rotate(-90)`)
    .attr("text-anchor", "middle").style("font-size", "12px").attr("fill", "#222");
  yt.append("tspan").text(isO3 ? "O" : "NO");
  yt.append("tspan").attr("dy", 3).style("font-size", "8px").text(isO3 ? "3" : "2");
  yt.append("tspan").attr("dy", -3).text(" concentration [µg m");
  yt.append("tspan").attr("dy", -5).style("font-size", "8px").text("−3");
  yt.append("tspan").attr("dy", 5).text("]");

  // series
  const line = d3.line()
    .x(d => x(d[0])).y(d => y(d[1]))
    .curve(d3.curveMonotoneX);
  const plot = g.append("g").attr("clip-path", `url(#${clipId})`);
  p.series.forEach((s, k) => {
    plot.append("path")
      .datum(s)
      .attr("fill", "none")
      .attr("stroke", seriesColors[k])
      .attr("stroke-width", k === 0 ? 1.7 : 1.4)
      .attr("stroke-dasharray", k === 0 ? null : "5,3")
      .attr("stroke-linejoin", "round")
      .attr("d", line);
  });

  // frame
  g.append("rect")
    .attr("x", f.x).attr("y", f.y).attr("width", f.w).attr("height", f.h)
    .attr("fill", "none").attr("stroke", frameColor).attr("stroke-width", 1.3);

  // legend (tightly stacked rows)
  const lx = Math.round(f.x + 29.5) + 0.5, ly = Math.round(f.y + 9) + 0.5;
  const lg = g.append("g");
  lg.append("rect").attr("x", lx).attr("y", ly).attr("width", 87).attr("height", 40)
    .attr("fill", "#fff").attr("stroke", "#555").attr("stroke-width", 1);
  seriesNames.forEach((name, k) => {
    const ry = ly + 8 + k * 8;
    lg.append("line")
      .attr("x1", lx + 8).attr("x2", lx + 23).attr("y1", ry).attr("y2", ry)
      .attr("stroke", seriesColors[k]).attr("stroke-width", 1.4)
      .attr("stroke-dasharray", k === 0 ? null : "5,3");
    lg.append("text")
      .attr("x", lx + 33).attr("y", ry + 2.6)
      .style("font-size", "10px").attr("fill", "#222")
      .text(name);
  });
});
</script>
</body>
</html>
